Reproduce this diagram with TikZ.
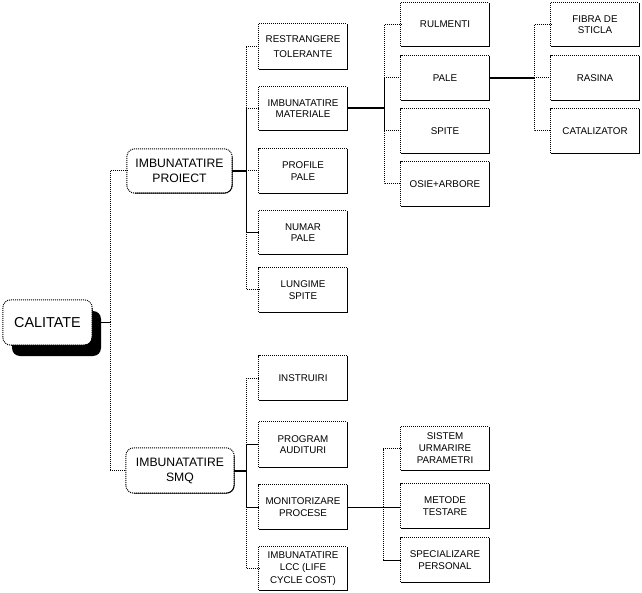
\documentclass[tikz,border=0pt]{standalone}
\usepackage{fontspec}
\setmainfont{Liberation Sans}
\usetikzlibrary{shadows,calc}
\begin{document}
\begin{tikzpicture}[x=1pt,y=-1pt]
\tikzset{
  bx/.style={minimum width=88pt, minimum height=44pt, inner sep=0pt, align=center, font=\fontsize{9.8}{11.5}\selectfont},
  rbx/.style={minimum width=105pt, minimum height=44pt, inner sep=0pt, align=center, font=\fontsize{12.2}{15}\selectfont, rounded corners=8pt},
  dot/.style={line width=1pt, dash pattern=on 1pt off 1pt},
  ln/.style={line width=0.9pt},
  thk/.style={line width=2pt},
}
\useasboundingbox[fill=white] (0,0) rectangle (642,593);

% root
\node[rbx, minimum width=89pt, minimum height=45pt, font=\fontsize{14.4}{16}\selectfont, fill=white,
  drop shadow={shadow xshift=9pt, shadow yshift=-11pt, fill=black, opacity=1}] (cal) at (47.5,322.5) {CALITATE};

% level 1
\node[rbx] (proiect) at (179.5,171) {IMBUNATATIRE\\PROIECT};
\node[rbx, minimum width=108pt, minimum height=45pt] (smq) at (180,470.5) {IMBUNATATIRE\\SMQ};

% level 2 top
\node[bx, minimum height=45pt] (restr) at (303,46.5) {RESTRANGERE\\[4pt]TOLERANTE};
\node[bx, minimum height=43pt] (mater) at (303,108.5) {IMBUNATATIRE\\MATERIALE};
\node[bx] (profil) at (303,171) {PROFILE\\PALE};
\node[bx, minimum height=43pt] (numar) at (303,232.5) {NUMAR\\PALE};
\node[bx] (lung) at (303,290) {LUNGIME\\SPITE};

% level 3 top
\node[bx, minimum height=43pt] (rulm) at (445,24.5) {RULMENTI};
\node[bx] (pale) at (445,78) {PALE};
\node[bx] (spite) at (445,131) {SPITE};
\node[bx] (osie) at (445,184) {OSIE+ARBORE};

% level 4
\node[bx, minimum height=43pt] (fibra) at (595,24.5) {FIBRA DE\\STICLA};
\node[bx] (rasina) at (595,78) {RASINA};
\node[bx] (catal) at (595,131) {CATALIZATOR};

% level 2 bottom
\node[bx] (instr) at (303,378) {INSTRUIRI};
\node[bx, minimum height=45pt] (progr) at (303,444.5) {PROGRAM\\AUDITURI};
\node[bx] (monit) at (303,507) {MONITORIZARE\\PROCESE};
\node[bx, minimum height=43pt, font=\fontsize{9.8}{12.5}\selectfont] (lcc) at (303,568.5) {IMBUNATATIRE\\LCC (LIFE\\CYCLE COST)};

% level 3 bottom
\node[bx, minimum height=43pt, font=\fontsize{9.8}{12}\selectfont] (sistem) at (445,448.5) {SISTEM\\URMARIRE\\PARAMETRI};
\node[bx] (metode) at (445,506) {METODE\\TESTARE};
\node[bx] (special) at (445,560) {SPECIALIZARE\\PERSONAL};

% box borders
\foreach \n in {restr,mater,profil,numar,lung,rulm,pale,spite,osie,fibra,rasina,catal,instr,progr,monit,lcc,sistem,metode,special} {
  \draw[dot] (\n.south west) -- (\n.north west) -- (\n.north east);
  \draw[ln] (\n.north east) -- (\n.south east) -- (\n.south west);
}
\foreach \n in {proiect,smq,cal} {
  \draw[dot, rounded corners=8pt] (\n.south west) rectangle (\n.north east);
  \draw[ln, rounded corners=8pt] ([yshift=-8pt]\n.north east) -- (\n.south east) -- ([xshift=8pt]\n.south west);
}

% bus coordinates
\coordinate (b0) at (110,322.5);
\coordinate (b1) at (246,171);
\coordinate (b2) at (384,108.5);
\coordinate (b3) at (534,78);
\coordinate (b4) at (246,470.5);
\coordinate (b5) at (383,507);

% root connectors
\draw[ln] (cal.east) -- (b0);
\draw[dot] (b0) |- (proiect.west);
\draw[dot] (b0) |- (smq.west);

% level 2 top connectors
\draw[thk] (proiect.east) -- (b1);
\draw[dot] (mater.west -| b1) |- (restr.west);
\draw[dot] (mater.west -| b1) -- (mater.west);
\draw[ln] (mater.west -| b1) -- (numar.west -| b1) -- (numar.west);
\draw[dot] (b1) -- (profil.west);
\draw[dot] (numar.west -| b1) |- (lung.west);

% level 3 top connectors
\draw[thk] (mater.east) -- (b2);
\draw[dot] (pale.west -| b2) |- (rulm.west);
\draw[dot] (pale.west -| b2) -- (pale.west);
\draw[ln] (pale.west -| b2) -- (spite.west -| b2);
\draw[dot] (spite.west -| b2) -- (spite.west);
\draw[dot] (spite.west -| b2) |- (osie.west);

% level 4 connectors
\draw[thk] (pale.east) -- (b3);
\draw[dot] (b3) |- (fibra.west);
\draw[dot] (b3) -- (rasina.west);
\draw[dot] (b3) |- (catal.west);

% level 2 bottom connectors
\draw[thk] (smq.east) -- (b4);
\draw[dot] (progr.west -| b4) |- (instr.west);
\draw[ln] (progr.west -| b4) -- (progr.west);
\draw[ln] (progr.west -| b4) -- (monit.west -| b4) -- (monit.west);
\draw[dot] (monit.west -| b4) |- (lcc.west);

% level 3 bottom connectors
\draw[ln] (monit.east) -- (metode.west |- monit.east);
\draw[dot] (b5) |- (sistem.west);
\draw[dot] (b5) |- (special.west);
\draw[ln] (special.west -| b5) -- (special.west);
\end{tikzpicture}
\end{document}
